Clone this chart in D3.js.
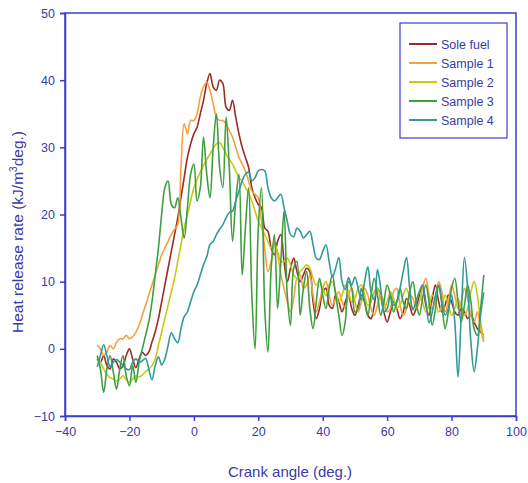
<!DOCTYPE html>
<html>
<head>
<meta charset="utf-8">
<script src="https://cdn.jsdelivr.net/npm/d3@7"></script>
<style>
  body { margin: 0; background: #fff; }
  svg { display: block; font-family: "Liberation Sans", Arial, sans-serif; }
</style>
</head>
<body>
<svg width="528" height="483"></svg>
<script>
const svg = d3.select("svg");
const width = 528;
const height = 483;

// crank angle from -30 to 90, one value per degree
const crankStart = -30;

const seriesNames = ['Sole fuel', 'Sample 1', 'Sample 2', 'Sample 3', 'Sample 4'];
const seriesColors = ['#9b2a2a', '#f7a040', '#c9c914', '#3f9f3f', '#319a9a'];

const xTicks = [-40, -20, 0, 20, 40, 60, 80, 100];
const yTicks = [-10, 0, 10, 20, 30, 40, 50];

const soleFuel = [
  -1.5, -2, -1, -2.5, -3, -1.5, -2, -3, -2.5, -1,
  0, -1.5, -2.8, -1.5, -0.5, -1, -0.5, 1, 2.5, 4.5,
  7, 9.5, 12, 14.5, 17, 19.5, 22.5, 25.5, 28.5, 30.5,
  32, 33, 35, 37, 39.5, 41, 39, 38.5, 40, 39.5,
  36, 35.5, 37, 34.5, 32, 30, 28.5, 27, 24, 22.5,
  21.5, 21, 18, 17.5, 15, 14, 16, 17, 13, 10,
  12, 13.5, 11.5, 10, 11, 12, 11.5, 7, 4.5, 6,
  8.5, 9, 6.5, 6, 8, 7, 5.5, 7, 8, 6,
  5, 6.5, 8, 7, 5, 4.5, 6.5, 9, 8, 5.5,
  4, 5.5, 7, 6, 4.5, 5.5, 7.5, 6.5, 5, 6,
  8, 9.5, 6.5, 5, 7.5, 9.5, 7, 5.5, 6.5, 8,
  7, 5.5, 5, 6, 5.5, 4.5, 5, 4, 3, 2.5,
  2
];

const sample1 = [
  0.5, 0, -1, -0.5, 0.5, 0, 1, 1.5, 1.5, 2,
  1.5, 1.8, 2.5, 3.5, 5, 6.5, 8, 9.5, 11, 12.5,
  14, 15, 16, 17, 17.8, 18.5, 27, 33.5, 32, 34,
  34, 35, 37.5, 39, 39.7, 38.5, 36.5, 34.5, 34, 34,
  33.5, 32.5, 31.5, 30, 28.5, 27.5, 26.5, 25, 23.5, 23,
  22.5, 19, 15, 11.5, 13, 16, 14, 11, 9, 7,
  5.5, 7.5, 10.5, 11, 9, 9.5, 11, 8, 5.5, 7,
  9, 10, 8, 6.5, 7.5, 8.5, 7, 6, 8, 9,
  7, 5.5, 7, 9, 8, 6, 5, 6.5, 8, 7,
  5.5, 6, 8.5, 9, 6.5, 5, 6, 8, 7.5, 6,
  7, 9, 10.5, 8, 6, 7.5, 10, 8.5, 5.5, 7,
  9.5, 8, 6, 7, 9, 7.5, 5, 4, 5.5, 3,
  1
];

const sample2 = [
  -1.2, -2, -3, -3.8, -4.3, -4.5, -4.8, -4.5, -4, -4.6,
  -5, -4.5, -4, -4.2, -3.9, -3.4, -3, -2.5, -1.5, 0.5,
  2.5, 4.5, 6.5, 8.5, 10.5, 13, 15.5, 18, 20, 22,
  24, 25.2, 26.3, 27.3, 28.2, 29, 29.8, 30.5, 30.7, 30,
  29, 28.2, 27.5, 26.5, 25.5, 25, 24, 23.2, 22, 20.5,
  19, 18, 17, 16, 15, 15.5, 14.5, 13, 13, 13.5,
  12.5, 11, 10.5, 11.5, 12, 12.5, 12, 10.5, 9.5, 10,
  9, 8, 9.5, 10, 8.5, 7, 8, 9.5, 8.5, 7,
  7.5, 9, 9.5, 8, 6.5, 7, 8.5, 9, 7.5, 6,
  7, 8.5, 7.5, 6, 6.5, 8, 9, 7.5, 6, 7,
  8.5, 7, 5.5, 6.5, 8, 7, 5.5, 6.5, 8, 6.5,
  5, 6, 7.5, 6, 5, 6, 8.5, 10, 8, 4,
  1.5
];

const sample3 = [
  -1, -3, -6.5, -3, -1, -3.5, -6, -3, -1, -4,
  -5.5, -2.5, -5, -2, 0, 2, 4, 7, 11, 15,
  20, 24, 25, 21.5, 21, 22.5, 19.5, 16.5, 21, 26,
  27.5, 22, 24, 31.5, 26, 22.5, 30, 35, 27, 24,
  34.5, 27, 16, 22, 26, 11, 18, 24, 8, 0,
  18, 24, 6, -0.5, 12, 17, 6, 13, 20.5, 8,
  3.5, 12, 13, 5, 9, 11.5, 6, 3, 7, 10.5,
  8, 6, 9, 11, 8, 5, 2, 4, 10, 9,
  5.5, 6, 9, 7, 5, 8, 10.5, 8, 5, 7,
  9.5, 8, 5.5, 7, 9, 7, 6, 8.5, 10, 7,
  5, 7.5, 9.5, 7, 3.5, 6, 9.5, 6.5, 3, 5.5,
  9, 10.5, 7, 4, 6.5, 9.5, 7, 3, 2, 6,
  11
];

const sample4 = [
  -2.7, -1, 0.6, -1, -2.7, -2, -1.6, -2, -2.5, -3,
  -3.1, -2, -1.5, -2, -1.8, -1.4, -3, -4.6, -2.5, -1.2,
  -2.4, -1.5, 0.5, 2.4, 1.5, 0.9, 3, 4.8, 5.5, 7,
  8.5, 9.5, 11, 12.5, 13.7, 15.5, 16, 17, 17.8, 18.5,
  19.5, 20.3, 20.5, 22, 23.5, 25, 26, 26.3, 25, 25.5,
  26.5, 26.7, 26.5, 24, 22.5, 22, 22.5, 23, 21, 19,
  17, 16.7, 18, 17.5, 16.5, 17, 17.5, 15.5, 13.5, 13.3,
  14.5, 15.5, 13, 10.7, 12, 13.6, 10, 8.8, 10.6, 9.5,
  10.7, 9, 7.3, 10, 12.2, 8.5, 7.3, 11.8, 9, 5.5,
  6, 8, 6.5, 7, 9, 11.5, 13.6, 9, 5.8, 7,
  8.5, 9.5, 7, 3.9, 5.5, 8, 9.5, 7, 5, 6,
  8, 4, -4.2, 5, 13.6, 9, 1, -3.4, 0, 5,
  8.4
];

const seriesValues = [soleFuel, sample1, sample2, sample3, sample4];

const render = () => {
  const margin = { top: 13, right: 12, bottom: 67, left: 65 };
  const innerWidth = width - margin.left - margin.right;
  const innerHeight = height - margin.top - margin.bottom;

  const axisColor = '#3c3cd2';
  const textColor = '#3a3aa8';

  const xScale = d3.scaleLinear()
    .domain([-40, 100])
    .range([0, innerWidth]);

  const yScale = d3.scaleLinear()
    .domain([-10, 50])
    .range([innerHeight, 0]);

  const g = svg.append('g')
    .attr('transform', `translate(${margin.left},${margin.top})`);

  // lines first, frame and axes on top
  const line = d3.line()
    .x((d, i) => xScale(crankStart + i))
    .y(d => yScale(d))
    .curve(d3.curveCatmullRom.alpha(0.5));

  g.append('g')
    .attr('class', 'lines')
    .selectAll('path')
    .data(seriesValues)
    .enter().append('path')
      .attr('d', d => line(d))
      .attr('fill', 'none')
      .attr('stroke', (d, i) => seriesColors[i])
      .attr('stroke-width', 1.6)
      .attr('stroke-linejoin', 'round');

  // box round the plot area
  g.append('rect')
    .attr('width', innerWidth)
    .attr('height', innerHeight)
    .attr('fill', 'none')
    .attr('stroke', axisColor)
    .attr('stroke-width', 1.5);

  const xAxis = d3.axisBottom(xScale)
    .tickValues(xTicks)
    .tickSize(5)
    .tickPadding(6);

  const xAxisG = g.append('g')
    .attr('transform', `translate(0,${innerHeight})`)
    .call(xAxis);

  const yAxis = d3.axisLeft(yScale)
    .tickValues(yTicks)
    .tickSize(5)
    .tickPadding(5);

  const yAxisG = g.append('g').call(yAxis);

  [xAxisG, yAxisG].forEach(axisG => {
    axisG.select('.domain')
      .attr('stroke', axisColor)
      .attr('stroke-width', 1.5);
    axisG.selectAll('.tick line')
      .attr('stroke', axisColor)
      .attr('stroke-width', 1.5);
    axisG.selectAll('.tick text')
      .attr('fill', textColor)
      .attr('font-size', 12.5)
      .attr('font-family', '"Liberation Sans", Arial, sans-serif');
  });

  // axis titles
  svg.append('text')
    .text('Crank angle (deg.)')
    .attr('x', 290)
    .attr('y', 477)
    .attr('text-anchor', 'middle')
    .attr('font-size', 15)
    .attr('fill', textColor);

  const yTitle = svg.append('text')
    .attr('transform', 'translate(23,232) rotate(-90)')
    .attr('text-anchor', 'middle')
    .attr('font-size', 15.5)
    .attr('fill', textColor);
  yTitle.append('tspan').text('Heat release rate (kJ/m');
  yTitle.append('tspan').text('3').attr('font-size', 10).attr('dy', -6);
  yTitle.append('tspan').text('deg.)').attr('dy', 6);

  // legend
  const legend = svg.append('g')
    .attr('class', 'legend')
    .attr('transform', 'translate(400,23)');

  legend.append('rect')
    .attr('width', 107)
    .attr('height', 115)
    .attr('fill', '#fff')
    .attr('stroke', axisColor)
    .attr('stroke-width', 1.2);

  const rows = legend.selectAll('g.row')
    .data(seriesNames)
    .enter().append('g')
      .attr('class', 'row')
      .attr('transform', (d, i) => `translate(0,${21 + i * 19})`);

  rows.append('line')
    .attr('x1', 9)
    .attr('x2', 37)
    .attr('stroke', (d, i) => seriesColors[i])
    .attr('stroke-width', 2);

  rows.append('text')
    .text(d => d)
    .attr('x', 41)
    .attr('y', 4.5)
    .attr('font-size', 12.5)
    .attr('fill', textColor);
};

render();
</script>
</body>
</html>
